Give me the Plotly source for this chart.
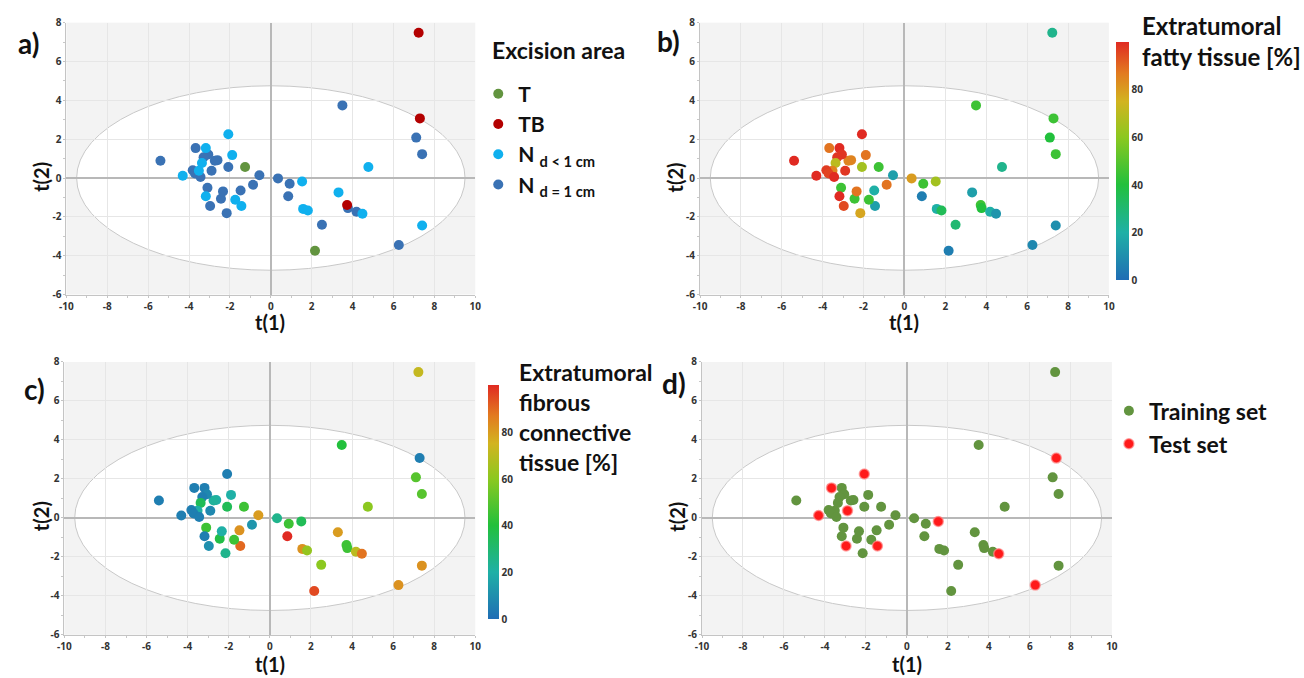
import plotly.graph_objects as go

# ---------------- data ----------------
t1 = [7.23, 7.29, 3.50, 7.11, 7.40, 4.77, 7.40, 6.26, 3.73, 3.77,
      3.31, 4.19, 4.48, 2.50, 2.16, 1.53, 1.58, 1.81, 0.92, 0.85,
      0.35, -0.56, -0.87, -1.26, -1.48, -1.44, -1.74, -1.89, -2.08, -2.08,
      -2.16, -2.44, -2.34, -2.61, -2.74, -2.90, -2.97, -3.10, -3.18, -3.18,
      -3.06, -3.29, -3.37, -3.52, -3.68, -3.82, -3.71, -3.44, -4.31, -5.40]
t2 = [7.48, 3.07, 3.74, 2.08, 1.23, 0.57, -2.45, -3.45, -1.39, -1.55,
      -0.74, -1.74, -1.84, -2.41, -3.75, -0.18, -1.59, -1.67, -0.30, -0.94,
      -0.02, 0.14, -0.35, 0.57, -0.64, -1.44, -1.12, 1.18, 2.25, 0.57,
      -1.81, -1.07, -0.69, 0.92, 0.89, 0.37, -1.44, -0.50, -0.94, 1.54,
      1.21, 1.07, 0.77, 0.37, 1.54, 0.40, 0.23, 0.05, 0.12, 0.89]
area = ["TB", "TB", "N1", "N1", "N1", "N0", "N0", "N1", "TB", "N1",
        "N0", "N1", "N0", "N1", "T", "N0", "N0", "N0", "N1", "N1",
        "N1", "N1", "N1", "T", "N1", "N0", "N0", "N0", "N0", "N1",
        "N1", "N1", "N1", "N1", "N1", "N1", "N1", "N1", "N0", "N0",
        "N1", "N1", "N0", "N0", "N1", "N1", "N1", "N1", "N0", "N1"]
fatty = [25, 45, 45, 40, 45, 25, 10, 8, 45, 40,
         15, 20, 12, 30, 5, 65, 20, 35, 45, 5,
         80, 15, 88, 45, 20, 15, 45, 88, 100, 65,
         78, 45, 88, 85, 85, 98, 95, 45, 100, 100,
         98, 98, 70, 85, 88, 97, 96, 100, 100, 100]
fibrous = [72, 5, 40, 50, 50, 60, 82, 82, 45, 45,
           80, 70, 88, 60, 95, 35, 82, 62, 45, 100,
           25, 80, 12, 45, 82, 90, 45, 20, 5, 35,
           25, 38, 20, 20, 22, 8, 10, 45, 5, 5,
           8, 5, 35, 20, 5, 5, 5, 5, 5, 5]
dataset = ["train", "test", "train", "train", "train", "train", "train", "test", "train", "train",
           "train", "train", "test", "train", "train", "test", "train", "train", "train", "train",
           "train", "train", "train", "train", "train", "test", "train", "train", "test", "train",
           "train", "train", "train", "train", "train", "test", "test", "train", "train", "train",
           "train", "train", "train", "train", "test", "train", "train", "train", "test", "train"]

area_codes = ["T", "TB", "N0", "N1"]
area_names = ["T", "TB", "N <sub>d &lt; 1 cm</sub>", "N <sub>d = 1 cm</sub>"]
area_colors = ["#62943f", "#b30000", "#10b0ee", "#3a72b4"]
set_codes = ["train", "test"]
set_names = ["Training set", "Test set"]
set_colors = ["#62943f", "#ff1a1a"]

x_ticks = [-10, -8, -6, -4, -2, 0, 2, 4, 6, 8, 10]
x_ticktext = ["-10", "-8", "-6", "-4", "-2", "0", "2", "4", "6", "8", "10"]
y_ticks = [-6, -4, -2, 0, 2, 4, 6, 8]
y_ticktext = ["-6", "-4", "-2", "0", "2", "4", "6", "8"]
cb_ticks = [0, 20, 40, 60, 80]

# Hotelling ellipse semi-axes
ELL_A, ELL_B = 9.5, 4.75

W, H = 1304, 678
def px(v): return v / W
def py(v): return 1 - v / H

CS = [[0.0, "#1f6db5"], [0.2, "#1fb0a6"], [0.4, "#22c03c"], [0.6, "#8cc820"],
      [0.75, "#d2b420"], [0.87, "#e27a20"], [1.0, "#e02a22"]]

MS = 10
FONT = "Lato"

fig = go.Figure()

# panel a
order = ["N1", "N0", "T", "TB"]
for code in order:
    i = area_codes.index(code)
    idx = [k for k, a in enumerate(area) if a == code]
    fig.add_trace(go.Scatter(
        x=[t1[k] for k in idx], y=[t2[k] for k in idx], mode="markers",
        name=area_names[i], legendrank=i + 1, legend="legend",
        marker=dict(size=MS, color=area_colors[i], line=dict(width=0)),
        xaxis="x", yaxis="y"))

# panel b
fig.add_trace(go.Scatter(x=t1, y=t2, mode="markers", showlegend=False,
                         marker=dict(size=MS, color=fatty, coloraxis="coloraxis", line=dict(width=0)),
                         xaxis="x2", yaxis="y2"))
# panel c
fig.add_trace(go.Scatter(x=t1, y=t2, mode="markers", showlegend=False,
                         marker=dict(size=MS, color=fibrous, coloraxis="coloraxis2", line=dict(width=0)),
                         xaxis="x3", yaxis="y3"))
# panel d
for j, code in enumerate(set_codes):
    idx = [k for k, s in enumerate(dataset) if s == code]
    fig.add_trace(go.Scatter(
        x=[t1[k] for k in idx], y=[t2[k] for k in idx], mode="markers",
        name=set_names[j], legend="legend2", legendrank=j + 1,
        marker=dict(size=MS, color=set_colors[j],
                    line=dict(width=1.5 if code == "test" else 0, color="rgba(255,140,140,0.7)")),
        xaxis="x4", yaxis="y4"))

domains = {
    1: ([px(60), px(473)], [py(293), py(15)]),
    2: ([px(700), px(1113)], [py(293), py(15)]),
    3: ([px(58), px(473)], [py(641), py(362)]),
    4: ([px(702), px(1116)], [py(641), py(362)]),
}

def axis_common():
    return dict(showgrid=True, gridcolor="#e6e6e6", gridwidth=1,
                zeroline=True, zerolinecolor="#b8b8b8", zerolinewidth=1.5,
                showline=True, linecolor="#c4c4c4", linewidth=1,
                ticks="outside", ticklen=2, tickcolor="#c4c4c4",
                tickfont=dict(family="Open Sans", size=10, color="#333", weight="bold"),
                minor=dict(dtick=1, ticks="outside", ticklen=2, tickcolor="#c8c8c8", showgrid=False),
                fixedrange=True)

layout = dict(width=W, height=H, margin=dict(l=0, r=0, t=0, b=0),
              paper_bgcolor="white", plot_bgcolor="#f3f3f3", showlegend=True)

for n in range(1, 5):
    sx = "" if n == 1 else str(n)
    xd, yd = domains[n]
    xa = axis_common()
    xa.update(domain=xd, range=[-10, 10], tickvals=x_ticks, ticktext=x_ticktext,
              anchor="y" + sx)
    ya = axis_common()
    ya.update(domain=yd, range=[-6, 8], tickvals=y_ticks, ticktext=y_ticktext,
              anchor="x" + sx)
    minor_x = dict(xa["minor"]); minor_x["tick0"] = -10
    xa["minor"] = minor_x
    layout["xaxis" + sx] = xa
    layout["yaxis" + sx] = ya

shapes = []
for n in range(1, 5):
    sx = "" if n == 1 else str(n)
    shapes.append(dict(type="circle", xref="x" + sx, yref="y" + sx,
                       x0=-ELL_A, x1=ELL_A, y0=-ELL_B, y1=ELL_B,
                       fillcolor="white", line=dict(color="#c8c8c8", width=1),
                       layer="below"))
layout["shapes"] = shapes

cb_font = dict(family="Open Sans", size=10, color="#333", weight="bold")
layout["coloraxis"] = dict(cmin=0, cmax=100, colorscale=CS,
                           colorbar=dict(x=px(1120), xanchor="left", y=py(35), yanchor="top",
                                         len=238, lenmode="pixels", thickness=13,
                                         outlinewidth=0, tickvals=cb_ticks, ticks="",
                                         tickfont=cb_font, xpad=0, ypad=0))
layout["coloraxis2"] = dict(cmin=0, cmax=100, colorscale=CS,
                            colorbar=dict(x=px(486), xanchor="left", y=py(386), yanchor="top",
                                          len=234, lenmode="pixels", thickness=11,
                                          outlinewidth=0, tickvals=cb_ticks, ticks="",
                                          tickfont=cb_font, xpad=0, ypad=0))

legend_font = dict(family=FONT, size=21, color="#111", weight="bold")
layout["legend"] = dict(x=px(476), y=py(67), xanchor="left", yanchor="top",
                        font=legend_font, bgcolor="rgba(0,0,0,0)", itemwidth=30,
                        tracegroupgap=0, traceorder="normal")
layout["legend2"] = dict(x=px(1113), y=py(390), xanchor="left", yanchor="top",
                         font=dict(family=FONT, size=23, color="#111", weight="bold"),
                         bgcolor="rgba(0,0,0,0)", itemwidth=30,
                         tracegroupgap=0, traceorder="normal")

ann = []
def A(text, x, y, size, xanchor="center", yanchor="middle", angle=0, align="left"):
    ann.append(dict(text=text, x=px(x), y=py(y), xref="paper", yref="paper",
                    showarrow=False, xanchor=xanchor, yanchor=yanchor, textangle=angle,
                    align=align, font=dict(family=FONT, size=size, color="#111", weight="bold")))

# panel letters
A("a)", 22, 36, 28)
A("b)", 668, 34, 28)
A("c)", 28, 390, 28)
A("d)", 674, 383, 28)
# axis titles
for cx, cy in [(266, 321), (906, 321), (266, 671), (909, 671)]:
    A("t(1)", cx, cy, 20)
for cx, cy in [(35, 173), (675, 173), (35, 520), (677, 520)]:
    A("t(2)", cx, cy, 20, angle=-90)
# legend/colorbar titles
A("Excision area", 488, 43, 23, xanchor="left")
A("Extratumoral<br>fatty tissue [%]", 1144, 34, 24, xanchor="left")
A("Extratumoral<br>fibrous<br>connective<br>tissue [%]", 515, 418, 23, xanchor="left")
layout["annotations"] = ann

fig.update_layout(**layout)
fig.write_html("out.html")
